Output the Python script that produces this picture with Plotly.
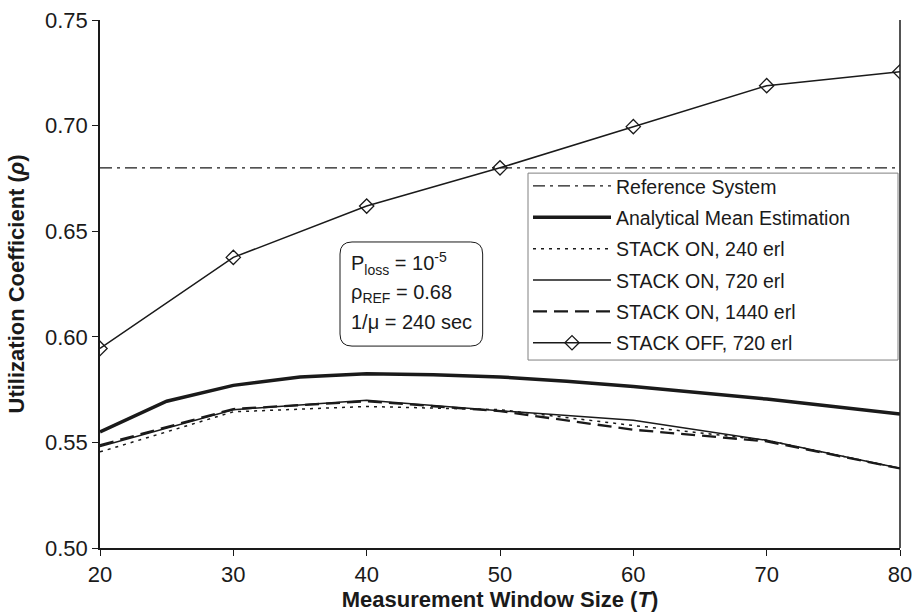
import plotly.graph_objects as go

T_fine = [20, 25, 30, 35, 40, 45, 50, 55, 60, 65, 70, 75, 80]
analytical = [0.555, 0.5695, 0.577, 0.581, 0.5825, 0.582, 0.581, 0.579, 0.5765, 0.5735, 0.5705, 0.567, 0.5635]

T = [20, 30, 40, 50, 60, 70, 80]
ref_T = [20, 80]
ref_rho = [0.68, 0.68]
on_240 = [0.5455, 0.5645, 0.567, 0.5655, 0.558, 0.551, 0.5377]
on_720 = [0.548, 0.5655, 0.570, 0.565, 0.5605, 0.551, 0.5377]
on_1440 = [0.5487, 0.5658, 0.5695, 0.5648, 0.556, 0.5505, 0.5377]
off_720 = [0.5945, 0.6376, 0.6619, 0.680, 0.6995, 0.7189, 0.7255]

FONT = "Liberation Sans, Arial, sans-serif"
K = "#1a1a1a"

fig = go.Figure()
fig.add_trace(go.Scatter(x=ref_T, y=ref_rho, mode="lines", name="Reference System",
                         line=dict(color=K, width=1.3, dash="12px,5px,3px,5px"), legendgroup="a"))
fig.add_trace(go.Scatter(x=T_fine, y=analytical, mode="lines", name="Analytical Mean Estimation",
                         line=dict(color=K, width=3.5), legendgroup="b"))
fig.add_trace(go.Scatter(x=T, y=on_240, mode="lines", name="STACK ON, 240 erl",
                         line=dict(color=K, width=1.5, dash="3px,5px"), legendgroup="c"))
fig.add_trace(go.Scatter(x=T, y=on_720, mode="lines", name="STACK ON, 720 erl",
                         line=dict(color=K, width=1.5), legendgroup="d"))
fig.add_trace(go.Scatter(x=T, y=on_1440, mode="lines", name="STACK ON, 1440 erl",
                         line=dict(color=K, width=2.3, dash="14px,7px"), legendgroup="e"))
fig.add_trace(go.Scatter(x=T, y=off_720, mode="lines+markers", name="STACK OFF, 720 erl",
                         line=dict(color=K, width=1.5),
                         marker=dict(symbol="diamond-open", size=11, color=K, line=dict(width=1.3)),
                         legendgroup="f"))

# rounded annotation box (data coordinates)
x0, x1, y0, y1 = 38.0, 48.7, 0.5956, 0.6449
rx, ry = 0.9, 0.0057
path = (f"M {x0+rx},{y1} L {x1-rx},{y1} Q {x1},{y1} {x1},{y1-ry} "
        f"L {x1},{y0+ry} Q {x1},{y0} {x1-rx},{y0} L {x0+rx},{y0} "
        f"Q {x0},{y0} {x0},{y0+ry} L {x0},{y1-ry} Q {x0},{y1} {x0+rx},{y1} Z")
fig.add_shape(type="path", path=path, xref="x", yref="y",
              line=dict(color=K, width=1), fillcolor="white", layer="above")

ann_lines = [
    "P<sub>loss</sub> = 10<sup>-5</sup>",
    "ρ<sub>REF</sub> = 0.68",
    "1/μ = 240 sec",
]
ann_y = [0.6345, 0.6205, 0.6068]
for txt, yy in zip(ann_lines, ann_y):
    fig.add_annotation(x=38.65, y=yy, xref="x", yref="y", text=txt, showarrow=False,
                       xanchor="left", yanchor="middle",
                       font=dict(family=FONT, size=20, color=K))

# legend frame
fig.add_shape(type="rect", xref="paper", yref="paper",
              x0=0.535, x1=0.9975, y0=0.356, y1=0.710,
              line=dict(color="#808080", width=1), fillcolor="white", layer="above")

fig.update_layout(
    width=915, height=616,
    margin=dict(l=100, r=15, t=20, b=68),
    paper_bgcolor="white", plot_bgcolor="white",
    font=dict(family=FONT, color=K),
    showlegend=True,
    legend=dict(x=0.535, y=0.722, xanchor="left", yanchor="top",
                bgcolor="rgba(0,0,0,0)", borderwidth=0,
                font=dict(family=FONT, size=19.5, color=K),
                itemwidth=78, tracegroupgap=3),
    xaxis=dict(range=[20, 80], tickvals=[20, 30, 40, 50, 60, 70, 80],
               showgrid=False, zeroline=False, automargin=False,
               showline=True, linecolor=K, linewidth=2, mirror=False,
               ticks="outside", ticklen=6, tickcolor=K,
               tickfont=dict(family=FONT, size=22, color=K),
               title=dict(text="<b>Measurement Window Size (<i>T</i>)</b>",
                          font=dict(family=FONT, size=22, color=K), standoff=4)),
    yaxis=dict(range=[0.50, 0.75], tickvals=[0.50, 0.55, 0.60, 0.65, 0.70, 0.75],
               tickformat=".2f", automargin=False,
               showgrid=False, zeroline=False,
               showline=True, linecolor=K, linewidth=1.5,
               ticks="outside", ticklen=6, tickcolor=K,
               tickfont=dict(family=FONT, size=22, color=K),
               title=dict(text="<b>Utilization Coefficient (<i>ρ</i>)</b>",
                          font=dict(family=FONT, size=22, color=K), standoff=14)),
)
# right border line
fig.add_shape(type="line", xref="paper", yref="paper", x0=1, x1=1, y0=0, y1=1,
              line=dict(color=K, width=1.5))

fig.write_html("out.html")
